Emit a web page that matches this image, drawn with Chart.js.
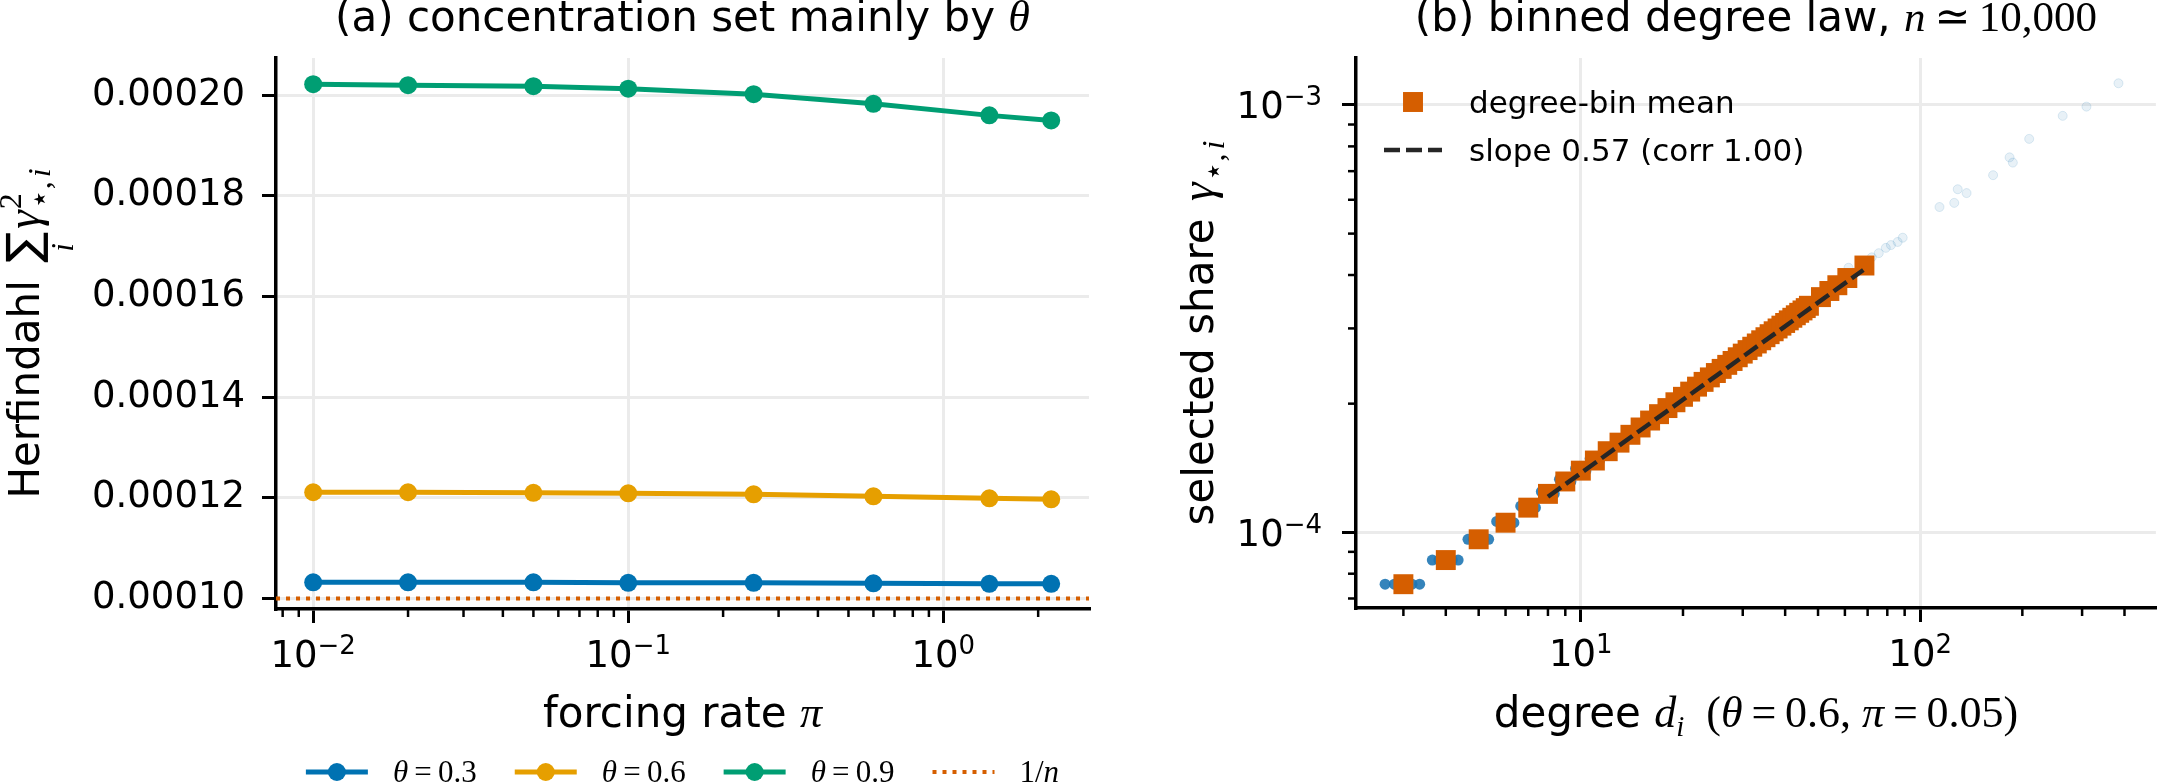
<!DOCTYPE html>
<html>
<head>
<meta charset="utf-8">
<script src="https://cdn.jsdelivr.net/npm/chart.js@4.4.0/dist/chart.umd.min.js"></script>
<style>
  html, body { margin: 0; padding: 0; background: #fff; }
  #wrap { position: relative; width: 2170px; height: 783px; overflow: hidden; }
  #leftChart { position: absolute; left: 0; top: 0; }
  #rightChart { position: absolute; left: 1100px; top: 0; }
</style>
</head>
<body>
<div id="wrap">
  <canvas id="leftChart" width="1100" height="783"></canvas>
  <canvas id="rightChart" width="1070" height="783"></canvas>
</div>
<script>
// (a) Herfindahl vs forcing rate
const forcingRates = [0.01, 0.02, 0.05, 0.1, 0.25, 0.6, 1.4, 2.2];
const herfTheta03 = [0.0001032, 0.0001032, 0.0001032, 0.0001031, 0.0001031, 0.000103, 0.0001029, 0.0001029];
const herfTheta06 = [0.0001211, 0.0001211, 0.000121, 0.0001209, 0.0001207, 0.0001203, 0.0001199, 0.0001197];
const herfTheta09 = [0.0002022, 0.000202, 0.0002018, 0.0002013, 0.0002002, 0.0001983, 0.000196, 0.000195];
const invN = 0.0001;
const leftLabels = ["θ\u2009=\u20090.3", "θ\u2009=\u20090.6", "θ\u2009=\u20090.9", "1/n"];
const leftYTicks = [0.0001, 0.00012, 0.00014, 0.00016, 0.00018, 0.0002];
const leftXRange = [0.00762, 2.90];
const leftYRange = [0.0000979, 0.0002074];

// (b) binned degree law
const binDegrees = [3, 4, 5, 6, 7, 8, 9, 10, 11, 12, 13, 14, 15, 16, 17, 18, 19, 20, 21, 22, 23, 24, 25, 26, 27,
  28, 29, 30, 31, 32, 33, 34, 35, 36, 37, 38, 39, 40, 41, 42, 43, 44, 45, 46, 47, 51, 54, 57, 61, 68.5];
const binMeanShare = [0.756e-4, 0.861e-4, 0.963e-4, 1.053e-4, 1.142e-4, 1.23e-4, 1.315e-4, 1.394e-4, 1.472e-4, 1.548e-4,
  1.621e-4, 1.691e-4, 1.759e-4, 1.826e-4, 1.89e-4, 1.953e-4, 2.015e-4, 2.075e-4, 2.134e-4, 2.192e-4,
  2.249e-4, 2.304e-4, 2.359e-4, 2.412e-4, 2.465e-4, 2.517e-4, 2.568e-4, 2.619e-4, 2.669e-4, 2.718e-4,
  2.766e-4, 2.814e-4, 2.861e-4, 2.908e-4, 2.954e-4, 2.999e-4, 3.045e-4, 3.089e-4, 3.133e-4, 3.177e-4,
  3.22e-4, 3.263e-4, 3.305e-4, 3.347e-4, 3.389e-4, 3.551e-4, 3.67e-4, 3.786e-4, 3.936e-4, 4.21e-4];
const fitDegrees = [8, 68];
const fitShare = [1.211e-4, 4.11e-4];
// individual nodes (many overlap at low degree)
const nodeDegCore = [2.65, 2.82, 3, 3.18, 3.35, 3.65, 3.82, 4, 4.18, 4.35, 4.65, 4.82, 5, 5.18, 5.35,
  5.65, 5.82, 6, 6.18, 6.35, 6.65, 6.82, 7, 7.18, 7.35, 7.65, 7.82, 8, 8.18, 8.35,
  8.65, 8.82, 9, 9.18, 9.35, 9.65, 9.82, 10, 10.18, 10.35, 10.65, 10.82, 11, 11.18, 11.35];
const nodeShareCore = [0.756e-4, 0.756e-4, 0.756e-4, 0.756e-4, 0.756e-4, 0.861e-4, 0.861e-4, 0.861e-4, 0.861e-4, 0.861e-4,
  0.963e-4, 0.963e-4, 0.963e-4, 0.963e-4, 0.963e-4, 1.06e-4, 1.058e-4, 1.053e-4, 1.053e-4, 1.053e-4,
  1.152e-4, 1.148e-4, 1.142e-4, 1.142e-4, 1.142e-4, 1.245e-4, 1.238e-4, 1.23e-4, 1.23e-4, 1.23e-4,
  1.33e-4, 1.322e-4, 1.315e-4, 1.315e-4, 1.315e-4, 1.41e-4, 1.402e-4, 1.394e-4, 1.394e-4, 1.394e-4,
  1.488e-4, 1.48e-4, 1.472e-4, 1.472e-4, 1.472e-4];
const nodeDegTail = [49, 52, 56, 60, 61.5, 64, 67, 72, 75.5, 79.2, 82, 85.8, 88.8, 114, 126, 129, 137,
  164, 183.4, 187.5, 209.5, 263, 309, 384];
const nodeShareTail = [3.45e-4, 3.6e-4, 3.75e-4, 3.9e-4, 4.16e-4, 4.05e-4, 4.2e-4, 4.4e-4, 4.5e-4, 4.63e-4, 4.7e-4,
  4.78e-4, 4.89e-4, 5.77e-4, 5.9e-4, 6.35e-4, 6.22e-4, 6.85e-4, 7.54e-4, 7.33e-4, 8.33e-4, 9.43e-4, 9.91e-4, 1.124e-3];
const rightLabels = ["degree-bin mean", "slope 0.57 (corr 1.00)"];
const rightXRange = [2.175, 495];
const rightYRange = [6.65e-5, 1.288e-3];

const SANS = "'DejaVu Sans', sans-serif";
const SERIF = "'Liberation Serif', 'DejaVu Serif', serif";
const GRID = "#ebebeb";
const C_BLUE = "#0072B2", C_ORANGE = "#E69F00", C_GREEN = "#009E73", C_VERM = "#D55E00";

Chart.defaults.font.family = SANS;
Chart.defaults.color = "#000";

// tick helpers
function decadeTicks(min, max) {
  const out = [];
  for (let e = Math.floor(Math.log10(min)); e <= Math.ceil(Math.log10(max)); e++) {
    for (let m = 1; m <= 9; m++) {
      const v = parseFloat((m * Math.pow(10, e)).toPrecision(6));
      if (v >= min && v <= max) out.push({ value: v, major: m === 1 });
    }
  }
  return out;
}

// rich text: parts = {t, size, fam, it, dy, mode, gap}
function fontOf(p) { return (p.it ? "italic " : "") + p.size + "px " + p.fam; }
function richWidth(ctx, parts) {
  let w = 0;
  parts.forEach(p => {
    ctx.font = fontOf(p);
    if (p.mode !== "keep" && p.mode !== "under") w += ctx.measureText(p.t).width + (p.gap || 0);
  });
  return w;
}
function drawRich(ctx, parts, x, y, align) {
  const w = richWidth(ctx, parts);
  let cx = align === "center" ? x - w / 2 : align === "right" ? x - w : x;
  let prev = null;
  ctx.textAlign = "left";
  ctx.textBaseline = "alphabetic";
  parts.forEach(p => {
    ctx.font = fontOf(p);
    const pw = ctx.measureText(p.t).width;
    if (p.mode === "under" && prev) {
      ctx.fillText(p.t, prev.x + (prev.w - pw) / 2, y + (p.dy || 0));
      return;
    }
    ctx.fillText(p.t, cx, y + (p.dy || 0));
    prev = { x: cx, w: pw };
    if (p.mode !== "keep") cx += pw + (p.gap || 0);
  });
}
// letters italic, the rest upright (math style)
function mathParts(str, size, dy) {
  return str.split(/([A-Za-z\u0370-\u03FF]+)/).filter(s => s.length).map(s => ({
    t: s, size, fam: SERIF, it: /[A-Za-z\u0370-\u03FF]/.test(s), dy: dy || 0
  }));
}
function sans(t, size) { return { t, size, fam: SANS }; }

function makeDecor(cfg) {
  return {
    id: "decor",
    afterDraw(chart) {
      const ctx = chart.ctx, a = chart.chartArea;
      const cx = (a.left + a.right) / 2;
      ctx.save();
      ctx.fillStyle = "#000";
      ctx.strokeStyle = "#000";
      Object.values(chart.scales).forEach(s => {
        if (s.type !== "logarithmic") return;
        const horiz = s.isHorizontal();
        s.ticks.forEach(t => {
          const p = s.getPixelForValue(t.value);
          if (!t.major) {
            ctx.lineWidth = 2.5;
            ctx.beginPath();
            if (horiz) { ctx.moveTo(p, a.bottom); ctx.lineTo(p, a.bottom + 8); }
            else { ctx.moveTo(a.left, p); ctx.lineTo(a.left - 8, p); }
            ctx.stroke();
            return;
          }
          const e = Math.round(Math.log10(t.value));
          const parts = [sans("10", 37), { t: (e < 0 ? "\u2212" : "") + Math.abs(e), size: 26, fam: SANS, dy: -13 }];
          if (horiz) drawRich(ctx, parts, p, a.bottom + 58, "center");
          else drawRich(ctx, parts, a.left - 34, p + 13.5, "right");
        });
      });
      drawRich(ctx, cfg.title, cx, 31, "center");
      drawRich(ctx, cfg.xLabel, cx, 727, "center");
      ctx.save();
      ctx.translate(cfg.yLabelX, (a.top + a.bottom) / 2);
      ctx.rotate(-Math.PI / 2);
      drawRich(ctx, cfg.yLabel, 0, 0, "center");
      ctx.restore();
      cfg.legend(chart, ctx);
      ctx.restore();
    }
  };
}

function drawHandle(ctx, ds, x, y, len) {
  ctx.save();
  if (ds.showLine) {
    ctx.strokeStyle = ds.borderColor;
    ctx.lineWidth = ds.borderWidth;
    ctx.setLineDash(ds.borderDash || []);
    ctx.beginPath(); ctx.moveTo(x, y); ctx.lineTo(x + len, y); ctx.stroke();
  }
  ctx.setLineDash([]);
  if (ds.pointRadius > 0) {
    ctx.fillStyle = ds.pointBackgroundColor;
    if (ds.pointStyle === "rect") {
      const h = ds.pointRadius * Math.SQRT1_2;
      ctx.fillRect(x + len / 2 - h, y - h, 2 * h, 2 * h);
    } else {
      ctx.beginPath(); ctx.arc(x + len / 2, y, ds.pointRadius, 0, 2 * Math.PI); ctx.fill();
    }
  }
  ctx.restore();
}

function leftLegend(chart, ctx) {
  const a = chart.chartArea;
  const items = chart.data.datasets.map(ds => ({ ds, parts: mathParts(ds.label, 31) }));
  const handle = 62, pad = 25, gap = 38;
  let total = gap * (items.length - 1);
  items.forEach(it => { it.w = richWidth(ctx, it.parts); total += handle + pad + it.w; });
  let x = (a.left + a.right) / 2 - total / 2;
  const y = a.bottom + 163;
  items.forEach(it => {
    drawHandle(ctx, it.ds, x, y, handle);
    ctx.fillStyle = "#000";
    drawRich(ctx, it.parts, x + handle + pad, y + 10, "left");
    x += handle + pad + it.w + gap;
  });
}

function rightLegend(chart, ctx) {
  const a = chart.chartArea;
  const items = rightLabels.map(lbl => chart.data.datasets.find(ds => ds.label === lbl));
  items.forEach((ds, i) => {
    const y = a.top + 44 + i * 48;
    drawHandle(ctx, ds, a.left + 28, y, 58);
    ctx.fillStyle = "#000";
    drawRich(ctx, [sans(ds.label, 31)], a.left + 113, y + 11, "left");
  });
}

function logAxis(range, fixSize, horiz) {
  return {
    type: "logarithmic",
    min: range[0], max: range[1], bounds: "data",
    afterBuildTicks: s => { s.ticks = decadeTicks(range[0], range[1]); },
    afterFit: s => { if (horiz) s.height = fixSize; else s.width = fixSize; },
    ticks: { display: false },
    grid: {
      color: c => (c.tick && c.tick.major ? GRID : "rgba(0,0,0,0)"),
      lineWidth: 3,
      tickColor: c => (c.tick && c.tick.major ? "#000" : "rgba(0,0,0,0)"),
      tickLength: 14, tickWidth: 3
    },
    border: { display: true, color: "#000", width: 3.5 }
  };
}

function lineSet(label, xs, ys, color) {
  return {
    label, data: xs.map((x, i) => ({ x, y: ys[i] })), showLine: true,
    borderColor: color, borderWidth: 5, pointRadius: 9, pointBackgroundColor: color,
    pointBorderWidth: 0, tension: 0
  };
}

const common = {
  responsive: false, animation: false, devicePixelRatio: 1, events: [],
  plugins: { legend: { display: false }, tooltip: { enabled: false }, title: { display: false } }
};

// panel (a)
new Chart(document.getElementById("leftChart"), {
  type: "scatter",
  data: {
    datasets: [
      lineSet(leftLabels[0], forcingRates, herfTheta03, C_BLUE),
      lineSet(leftLabels[1], forcingRates, herfTheta06, C_ORANGE),
      lineSet(leftLabels[2], forcingRates, herfTheta09, C_GREEN),
      {
        label: leftLabels[3], data: [{ x: leftXRange[0], y: invN }, { x: leftXRange[1], y: invN }],
        showLine: true, borderColor: C_VERM, borderWidth: 4, borderDash: [4, 6], borderCapStyle: "butt",
        pointRadius: 0, order: -1
      }
    ]
  },
  options: {
    ...common,
    layout: { padding: { left: 0, right: 11, top: 58, bottom: 0 } },
    scales: {
      x: logAxis(leftXRange, 174, true),
      y: {
        type: "linear", min: leftYRange[0], max: leftYRange[1],
        afterBuildTicks: s => { s.ticks = leftYTicks.map(v => ({ value: v, major: true })); },
        afterFit: s => { s.width = 276; },
        ticks: { callback: v => v.toFixed(5), font: { family: SANS, size: 37 }, color: "#000", padding: 17, autoSkip: false },
        grid: { color: GRID, lineWidth: 3, tickColor: "#000", tickLength: 14, tickWidth: 3 },
        border: { display: true, color: "#000", width: 3.5 }
      }
    }
  },
  plugins: [makeDecor({
    title: [sans("(a) concentration set mainly by ", 42), ...mathParts("θ", 44)],
    xLabel: [sans("forcing rate ", 42), ...mathParts("π", 44)],
    yLabelX: 38.6,
    yLabel: [
      { t: "Herfindahl ", size: 42, fam: SANS, gap: 4 },
      { t: "\u2211", size: 46, fam: SANS, gap: 3 },
      { t: "i", size: 31, fam: SERIF, it: true, dy: 34, mode: "under" },
      { t: "\u03b3", size: 47, fam: SERIF, it: true, gap: 1 },
      { t: "2", size: 32, fam: SERIF, dy: -18, mode: "keep" },
      { t: "\u22c6", size: 32, fam: SANS, dy: 11 },
      { t: ",", size: 32, fam: SERIF, dy: 11, gap: 4 },
      { t: "i", size: 32, fam: SERIF, it: true, dy: 11 }
    ],
    legend: leftLegend
  })]
});

// panel (b)
new Chart(document.getElementById("rightChart"), {
  type: "scatter",
  data: {
    datasets: [
      {
        label: rightLabels[1], data: fitDegrees.map((x, i) => ({ x, y: fitShare[i] })),
        showLine: true, borderColor: "#262626", borderWidth: 4.5, borderDash: [16, 6], pointRadius: 0, order: 0
      },
      {
        label: rightLabels[0], data: binDegrees.map((x, i) => ({ x, y: binMeanShare[i] })),
        pointStyle: "rect", pointRadius: 14.1, pointBackgroundColor: C_VERM, pointBorderWidth: 0, order: 1
      },
      {
        label: "nodes", data: nodeDegCore.map((x, i) => ({ x, y: nodeShareCore[i] })),
        pointRadius: 5.5, pointBackgroundColor: "rgba(31,119,180,0.9)", pointBorderWidth: 0, order: 2
      },
      {
        label: "nodes tail", data: nodeDegTail.map((x, i) => ({ x, y: nodeShareTail[i] })),
        pointRadius: 4.5, pointBackgroundColor: "rgba(31,119,180,0.1)", pointBorderColor: "rgba(31,119,180,0.14)",
        pointBorderWidth: 1, order: 3
      }
    ]
  },
  options: {
    ...common,
    layout: { padding: { left: 0, right: 0, top: 58, bottom: 0 } },
    scales: {
      x: logAxis(rightXRange, 175, true),
      y: logAxis(rightYRange, 256, false)
    }
  },
  plugins: [makeDecor({
    title: [sans("(b) binned degree law, ", 42), ...mathParts("n\u2009\u2243\u200910,000", 43)],
    xLabel: [sans("degree ", 42), ...mathParts("d", 44), ...mathParts("i", 29, 9),
      ...mathParts("  (θ\u2009=\u20090.6, π\u2009=\u20090.05)", 44)],
    yLabelX: 113,
    yLabel: [
      { t: "selected share ", size: 42, fam: SANS, gap: 4 },
      { t: "\u03b3", size: 47, fam: SERIF, it: true, gap: 1 },
      { t: "\u22c6", size: 32, fam: SANS, dy: 11 },
      { t: ",", size: 32, fam: SERIF, dy: 11, gap: 4 },
      { t: "i", size: 32, fam: SERIF, it: true, dy: 11 }
    ],
    legend: rightLegend
  })]
});
</script>
</body>
</html>
